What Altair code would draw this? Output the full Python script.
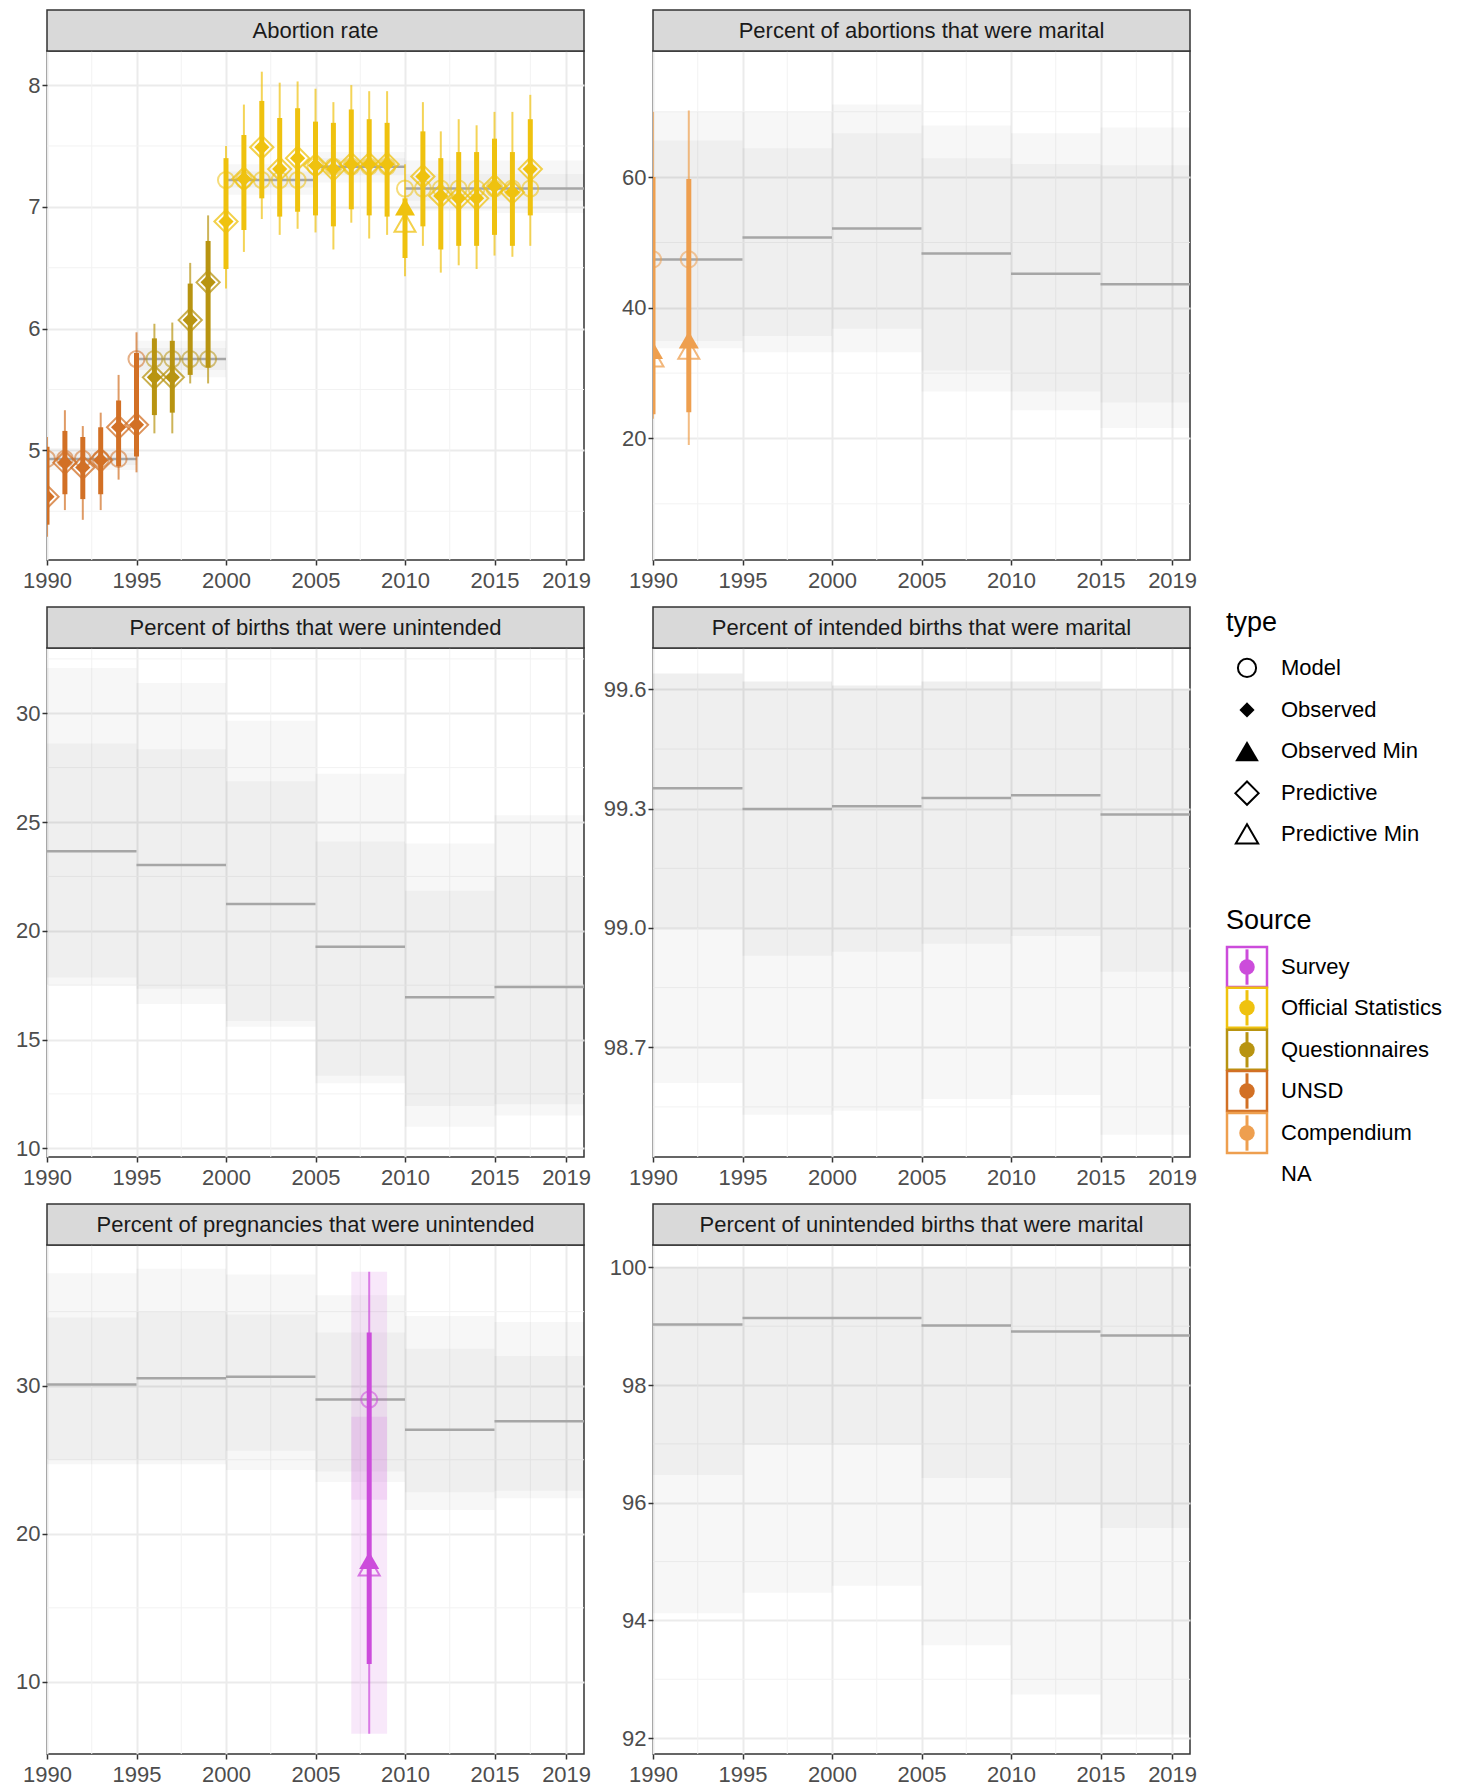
import altair as alt
import pandas as pd

FONT = "Liberation Sans"
W = 537
H = 509
STRIP_H = 41
XAXIS_EXT = 32
ROW_GAP = 12
LEFT_EXT = 38
RIGHT_EXT = 56
FS = 22

# ---------------- shared axis data ----------------
X_TICKS = [1990, 1995, 2000, 2005, 2010, 2015, 2019]
X_MINOR = [1992.5, 1997.5, 2002.5, 2007.5, 2012.5, 2017]
PERIOD_START = [1990, 1995, 2000, 2005, 2010, 2015]
PERIOD_END = [1995, 2000, 2005, 2010, 2015, 2020]

SOURCES = ["Survey", "Official Statistics", "Questionnaires", "UNSD", "Compendium"]
SOURCE_COLORS = ["#CC4CDB", "#EFC20F", "#B89411", "#D27025", "#EE9F4F"]

# ---------------- Panel 1: Abortion rate ----------------
P1_TITLE = "Abortion rate"
P1_MODEL = [4.93, 5.75, 7.22, 7.33, 7.15, 7.15]
P1_OUT_LO = [4.84, 5.60, 7.10, 7.20, 6.97, 6.95]
P1_OUT_HI = [5.02, 5.90, 7.35, 7.45, 7.38, 7.38]
P1_IN_LO = [4.88, 5.66, 7.16, 7.26, 7.05, 7.05]
P1_IN_HI = [4.98, 5.84, 7.29, 7.40, 7.27, 7.27]
P1_YEARS = [1990, 1991, 1992, 1993, 1994, 1995, 1996, 1997, 1998, 1999,
            2000, 2001, 2002, 2003, 2004, 2005, 2006, 2007, 2008, 2009,
            2010, 2011, 2012, 2013, 2014, 2015, 2016, 2017]
P1_SRC = ["UNSD", "UNSD", "UNSD", "UNSD", "UNSD", "UNSD",
          "Questionnaires", "Questionnaires", "Questionnaires", "Questionnaires",
          "Official Statistics", "Official Statistics", "Official Statistics",
          "Official Statistics", "Official Statistics", "Official Statistics",
          "Official Statistics", "Official Statistics", "Official Statistics",
          "Official Statistics", "Official Statistics", "Official Statistics",
          "Official Statistics", "Official Statistics", "Official Statistics",
          "Official Statistics", "Official Statistics", "Official Statistics"]
P1_KIND = ["regular", "regular", "regular", "regular", "regular", "regular",
           "regular", "regular", "regular", "regular", "regular", "regular",
           "regular", "regular", "regular", "regular", "regular", "regular",
           "regular", "regular", "min", "regular", "regular", "regular",
           "regular", "regular", "regular", "regular"]
P1_OBS = [4.62, 4.90, 4.86, 4.92, 5.19, 5.21, 5.60, 5.60, 6.07, 6.38,
          6.88, 7.23, 7.49, 7.31, 7.40, 7.34, 7.31, 7.35, 7.35, 7.35,
          7.00, 7.25, 7.09, 7.07, 7.07, 7.17, 7.12, 7.31]
P1_PRED = [4.62, 4.90, 4.86, 4.92, 5.19, 5.21, 5.60, 5.60, 6.07, 6.38,
           6.88, 7.23, 7.49, 7.31, 7.40, 7.34, 7.31, 7.35, 7.35, 7.35,
           6.87, 7.25, 7.09, 7.07, 7.07, 7.17, 7.12, 7.31]
P1_THIN_LO = [4.29, 4.51, 4.43, 4.51, 4.76, 4.82, 5.14, 5.14, 5.55, 5.55,
              6.33, 6.63, 6.90, 6.77, 6.82, 6.79, 6.65, 6.87, 6.74, 6.77,
              6.43, 6.68, 6.46, 6.52, 6.49, 6.60, 6.59, 6.68]
P1_THIN_HI = [5.11, 5.33, 5.20, 5.31, 5.62, 5.97, 6.04, 6.05, 6.54, 6.93,
              7.50, 7.84, 8.11, 8.02, 8.03, 7.97, 7.86, 8.00, 7.95, 7.95,
              7.35, 7.86, 7.62, 7.72, 7.67, 7.78, 7.78, 7.92]
P1_THICK_LO = [4.39, 4.64, 4.60, 4.64, 4.87, 4.95, 5.29, 5.31, 5.62, 5.68,
               6.49, 6.81, 7.07, 6.92, 6.96, 6.93, 6.84, 6.98, 6.93, 6.92,
               6.58, 6.84, 6.65, 6.68, 6.68, 6.77, 6.68, 6.93]
P1_THICK_HI = [5.03, 5.16, 5.11, 5.19, 5.41, 5.80, 5.92, 5.90, 6.37, 6.72,
               7.40, 7.59, 7.87, 7.73, 7.81, 7.70, 7.69, 7.80, 7.72, 7.69,
               7.07, 7.62, 7.40, 7.45, 7.45, 7.56, 7.45, 7.72]
P1_FIT = [4.93, 4.93, 4.93, 4.93, 4.93, 5.75, 5.75, 5.75, 5.75, 5.75,
          7.22, 7.22, 7.22, 7.22, 7.22, 7.33, 7.33, 7.33, 7.33, 7.33,
          7.15, 7.15, 7.15, 7.15, 7.15, 7.15, 7.15, 7.15]

# ---------------- Panel 2: Percent of abortions that were marital ----------------
P2_TITLE = "Percent of abortions that were marital"
P2_MODEL = [47.4, 50.75, 52.15, 48.3, 45.2, 43.6]
P2_OUT_LO = [33.8, 33.2, 33.2, 27.2, 24.3, 21.6]
P2_OUT_HI = [70.0, 70.0, 71.1, 67.9, 66.7, 67.6]
P2_IN_LO = [34.9, 35.7, 36.8, 30.4, 27.2, 25.5]
P2_IN_HI = [65.6, 64.4, 66.7, 62.9, 62.0, 61.8]
P2_YEARS = [1990, 1992]
P2_SRC = ["Compendium", "Compendium"]
P2_KIND = ["min", "min"]
P2_OBS = [33.5, 35.1]
P2_PRED = [32.4, 33.6]
P2_THIN_LO = [23.0, 19.0]
P2_THIN_HI = [70.0, 70.2]
P2_THICK_LO = [23.7, 24.0]
P2_THICK_HI = [60.0, 59.7]
P2_FIT = [47.4, 47.4]

# ---------------- Panel 3: Percent of births that were unintended ----------------
P3_TITLE = "Percent of births that were unintended"
P3_MODEL = [23.66, 23.02, 21.23, 19.27, 16.94, 17.41]
P3_OUT_LO = [17.50, 16.63, 15.59, 12.99, 10.99, 11.51]
P3_OUT_HI = [32.08, 31.39, 29.65, 27.22, 24.01, 25.31]
P3_IN_LO = [17.85, 17.33, 15.85, 13.33, 11.94, 12.03]
P3_IN_HI = [28.61, 28.35, 26.87, 24.10, 21.84, 22.53]

# ---------------- Panel 4: Percent of intended births that were marital ----------------
P4_TITLE = "Percent of intended births that were marital"
P4_MODEL = [99.351, 99.299, 99.306, 99.327, 99.334, 99.285]
P4_OUT_LO = [98.61, 98.53, 98.54, 98.57, 98.58, 98.48]
P4_OUT_HI = [99.64, 99.62, 99.61, 99.62, 99.62, 99.60]
P4_IN_LO = [99.00, 98.93, 98.94, 98.96, 98.98, 98.89]
P4_IN_HI = [99.64, 99.62, 99.61, 99.62, 99.62, 99.60]

# ---------------- Panel 5: Percent of pregnancies that were unintended ----------------
P5_TITLE = "Percent of pregnancies that were unintended"
P5_MODEL = [30.08, 30.50, 30.60, 29.06, 27.03, 27.60]
P5_OUT_LO = [24.7, 24.7, 24.3, 23.5, 21.6, 22.4]
P5_OUT_HI = [37.6, 37.9, 37.5, 36.1, 34.7, 34.3]
P5_IN_LO = [25.0, 25.0, 25.6, 24.2, 22.8, 22.9]
P5_IN_HI = [34.6, 35.0, 34.8, 33.6, 32.5, 32.0]
P5_YEARS = [2008]
P5_SRC = ["Survey"]
P5_KIND = ["min"]
P5_OBS = [18.2]
P5_PRED = [17.8]
P5_THIN_LO = [6.5]
P5_THIN_HI = [37.7]
P5_THICK_LO = [11.2]
P5_THICK_HI = [33.6]
P5_FIT = [29.06]
P5_RECT_X0 = [2007, 2007]
P5_RECT_X1 = [2009, 2009]
P5_RECT_LO = [6.5, 22.3]
P5_RECT_HI = [37.7, 27.9]

# ---------------- Panel 6: Percent of unintended births that were marital ----------------
P6_TITLE = "Percent of unintended births that were marital"
P6_MODEL = [99.03, 99.14, 99.14, 99.01, 98.91, 98.84]
P6_OUT_LO = [94.12, 94.47, 94.59, 93.58, 92.74, 92.06]
P6_OUT_HI = [100.0, 100.0, 100.0, 100.0, 100.0, 100.0]
P6_IN_LO = [96.47, 96.98, 96.98, 96.42, 95.97, 95.57]
P6_IN_HI = [100.0, 100.0, 100.0, 100.0, 100.0, 100.0]

# ---------------- Legend ----------------
LEG_ROWS = ["type", "Model", "Observed", "Observed Min", "Predictive", "Predictive Min",
            "Source", "Survey", "Official Statistics", "Questionnaires", "UNSD",
            "Compendium", "NA"]
# vertical slot of each legend row, in row-step units (titles leave a little extra room)
LEG_POS = [0, 1.08, 2.09, 3.08, 4.09, 5.07, 7.16, 8.27, 9.25, 10.26, 11.25, 12.26, 13.25]
TYPE_LABELS = ["Model", "Observed", "Observed Min", "Predictive", "Predictive Min"]
TYPE_SHAPES = ["circle", "diamond", "triangle-up", "diamond", "triangle-up"]
TYPE_FILLED = [False, True, True, False, False]
TYPE_SIZES = [330, 230, 560, 540, 500]
LEG_TITLES = ["type", "Source"]

XSCALE = alt.Scale(domain=[1990, 2020], nice=False, zero=False)
COLOR = alt.Color("src:N", scale=alt.Scale(domain=SOURCES, range=SOURCE_COLORS), legend=None)
SHAPE_OF = {"regular": "diamond", "min": "triangle-up"}
SIZE_OBS = {"regular": 230, "min": 400}
SIZE_PRED = {"regular": 540, "min": 440}


def make_panel(title, ydomain, yticks, yminor, yfmt, ext,
               model, out_lo, out_hi, in_lo, in_hi, obs=None, rects=None):
    xaxis = alt.Axis(values=X_TICKS, format="d", title=None, grid=True, labelFlush=False,
                     labelPadding=5, minExtent=XAXIS_EXT, maxExtent=XAXIS_EXT)
    yaxis = alt.Axis(values=yticks, format=yfmt, title=None, grid=True,
                     minExtent=ext, maxExtent=ext)
    yscale = alt.Scale(domain=ydomain, nice=False, zero=False)

    def X(f):
        return alt.X(f, type="quantitative", scale=XSCALE, axis=xaxis)

    def Y(f):
        return alt.Y(f, type="quantitative", scale=yscale, axis=yaxis)

    periods = pd.DataFrame({"x0": PERIOD_START, "x1": PERIOD_END, "m": model,
                            "olo": out_lo, "ohi": out_hi, "ilo": in_lo, "ihi": in_hi})
    layers = [
        alt.Chart(pd.DataFrame({"v": X_MINOR})).mark_rule(color="#f2f2f2", strokeWidth=1)
        .encode(x=X("v")),
        alt.Chart(pd.DataFrame({"v": yminor})).mark_rule(color="#f2f2f2", strokeWidth=1)
        .encode(y=Y("v")),
        alt.Chart(periods).mark_rect(color="black", opacity=0.03, clip=True)
        .encode(x=X("x0"), x2="x1", y=Y("olo"), y2="ohi"),
        alt.Chart(periods).mark_rect(color="black", opacity=0.03, clip=True)
        .encode(x=X("x0"), x2="x1", y=Y("ilo"), y2="ihi"),
        alt.Chart(periods).mark_rule(color="#a6a6a6", strokeWidth=2.5, clip=True)
        .encode(x=X("x0"), x2="x1", y=Y("m")),
    ]
    if rects is not None:
        rdf = pd.DataFrame(rects)
        layers.append(
            alt.Chart(rdf).mark_rect(opacity=0.13, clip=True)
            .encode(x=X("x0"), x2="x1", y=Y("lo"), y2="hi", color=COLOR)
        )
    if obs is not None:
        odf = pd.DataFrame(obs)
        odf["shape"] = [SHAPE_OF[k] for k in odf["kind"]]
        odf["so"] = [SIZE_OBS[k] for k in odf["kind"]]
        odf["sp"] = [SIZE_PRED[k] for k in odf["kind"]]
        base = alt.Chart(odf)
        layers += [
            base.mark_rule(strokeWidth=2, opacity=0.7, clip=True)
            .encode(x=X("year"), y=Y("thin_lo"), y2="thin_hi", color=COLOR),
            base.mark_rule(strokeWidth=5, opacity=1, clip=True)
            .encode(x=X("year"), y=Y("thick_lo"), y2="thick_hi", color=COLOR),
            base.mark_point(shape="circle", filled=False, size=260, strokeWidth=2,
                            opacity=0.55, clip=True)
            .encode(x=X("year"), y=Y("fit"), color=COLOR),
            base.mark_point(filled=False, strokeWidth=2, opacity=0.75, clip=True)
            .encode(x=X("year"), y=Y("pred"), color=COLOR,
                    shape=alt.Shape("shape:N", scale=None),
                    size=alt.Size("sp:Q", scale=None)),
            base.mark_point(filled=True, opacity=1, clip=True)
            .encode(x=X("year"), y=Y("obs"), color=COLOR,
                    shape=alt.Shape("shape:N", scale=None),
                    size=alt.Size("so:Q", scale=None)),
        ]
    # facet strip drawn just above the plot area
    tdf = pd.DataFrame({"t": [title]})
    layers += [
        alt.Chart(tdf).mark_rect(fill="#d9d9d9", stroke="#333333", strokeWidth=1.5)
        .encode(x=alt.value(0), x2=alt.value(W), y=alt.value(-STRIP_H), y2=alt.value(0)),
        alt.Chart(tdf).mark_text(fontSize=FS, color="#1a1a1a", baseline="middle")
        .encode(text="t:N", x=alt.value(W / 2), y=alt.value(-STRIP_H / 2)),
    ]
    return alt.layer(*layers).properties(width=W, height=H)


def obs_dict(years, src, kind, o, p, tlo, thi, klo, khi, fit):
    return {"year": years, "src": src, "kind": kind, "obs": o, "pred": p,
            "thin_lo": tlo, "thin_hi": thi, "thick_lo": klo, "thick_hi": khi, "fit": fit}


p1 = make_panel(P1_TITLE, [4.1, 8.28], [5, 6, 7, 8], [4.5, 5.5, 6.5, 7.5], "d", LEFT_EXT,
                P1_MODEL, P1_OUT_LO, P1_OUT_HI, P1_IN_LO, P1_IN_HI,
                obs=obs_dict(P1_YEARS, P1_SRC, P1_KIND, P1_OBS, P1_PRED, P1_THIN_LO,
                             P1_THIN_HI, P1_THICK_LO, P1_THICK_HI, P1_FIT))
p2 = make_panel(P2_TITLE, [1.4, 79.3], [20, 40, 60], [10, 30, 50, 70], "d", RIGHT_EXT,
                P2_MODEL, P2_OUT_LO, P2_OUT_HI, P2_IN_LO, P2_IN_HI,
                obs=obs_dict(P2_YEARS, P2_SRC, P2_KIND, P2_OBS, P2_PRED, P2_THIN_LO,
                             P2_THIN_HI, P2_THICK_LO, P2_THICK_HI, P2_FIT))
p3 = make_panel(P3_TITLE, [9.6, 33.0], [10, 15, 20, 25, 30], [12.5, 17.5, 22.5, 27.5, 32.5],
                "d", LEFT_EXT, P3_MODEL, P3_OUT_LO, P3_OUT_HI, P3_IN_LO, P3_IN_HI)
p4 = make_panel(P4_TITLE, [98.424, 99.704], [98.7, 99.0, 99.3, 99.6],
                [98.55, 98.85, 99.15, 99.45], ".1f", RIGHT_EXT,
                P4_MODEL, P4_OUT_LO, P4_OUT_HI, P4_IN_LO, P4_IN_HI)
p5 = make_panel(P5_TITLE, [5.13, 39.5], [10, 20, 30], [15, 25, 35], "d", LEFT_EXT,
                P5_MODEL, P5_OUT_LO, P5_OUT_HI, P5_IN_LO, P5_IN_HI,
                obs=obs_dict(P5_YEARS, P5_SRC, P5_KIND, P5_OBS, P5_PRED, P5_THIN_LO,
                             P5_THIN_HI, P5_THICK_LO, P5_THICK_HI, P5_FIT),
                rects={"x0": P5_RECT_X0, "x1": P5_RECT_X1, "lo": P5_RECT_LO,
                       "hi": P5_RECT_HI, "src": ["Survey", "Survey"]})
p6 = make_panel(P6_TITLE, [91.73, 100.38], [92, 94, 96, 98, 100], [93, 95, 97, 99], "d",
                RIGHT_EXT, P6_MODEL, P6_OUT_LO, P6_OUT_HI, P6_IN_LO, P6_IN_HI)

left_col = alt.vconcat(p1, p3, p5, spacing=ROW_GAP)
right_col = alt.vconcat(p2, p4, p6, spacing=ROW_GAP)

# ---------------- legend chart ----------------
# the legend view starts level with the top of the first plot area (below the strip)
LEG_H = 3 * (STRIP_H + H + XAXIS_EXT) + 2 * ROW_GAP - STRIP_H
ROW_STEP = 41.6
FIRST_ROW = 572
LY = alt.Y("pos:Q", scale=alt.Scale(domain=[-FIRST_ROW / ROW_STEP,
                                            (LEG_H - FIRST_ROW) / ROW_STEP],
                                    reverse=True, nice=False, zero=False), axis=None)


def leg_df(rows, **extra):
    d = {"row": rows, "pos": [LEG_POS[LEG_ROWS.index(r)] for r in rows]}
    d.update(extra)
    return pd.DataFrame(d)


type_df = leg_df(TYPE_LABELS, shape=TYPE_SHAPES, filled=TYPE_FILLED, size=TYPE_SIZES)
src_df = leg_df(SOURCES, color=SOURCE_COLORS)
lab_df = leg_df(TYPE_LABELS + SOURCES + ["NA"])
tit_df = leg_df(LEG_TITLES)

legend = alt.layer(
    alt.Chart(tit_df).mark_text(align="left", baseline="middle", fontSize=27, color="#000000")
    .encode(y=LY, x=alt.value(2), text="row:N"),
    alt.Chart(type_df[type_df["filled"]]).mark_point(filled=True, color="#000000", opacity=1)
    .encode(y=LY, x=alt.value(23), shape=alt.Shape("shape:N", scale=None),
            size=alt.Size("size:Q", scale=None)),
    alt.Chart(type_df[~type_df["filled"]]).mark_point(filled=False, color="#000000", opacity=1,
                                                      strokeWidth=2)
    .encode(y=LY, x=alt.value(23), shape=alt.Shape("shape:N", scale=None),
            size=alt.Size("size:Q", scale=None)),
    alt.Chart(src_df).mark_point(shape="square", filled=False, size=1600, strokeWidth=2.5,
                                 opacity=1)
    .encode(y=LY, x=alt.value(23), color=alt.Color("color:N", scale=None)),
    alt.Chart(src_df).mark_point(shape="M0,-1L0,1", filled=False, size=1250, strokeWidth=3,
                                 opacity=1)
    .encode(y=LY, x=alt.value(23), color=alt.Color("color:N", scale=None)),
    alt.Chart(src_df).mark_point(shape="circle", filled=True, size=240, opacity=1)
    .encode(y=LY, x=alt.value(23), color=alt.Color("color:N", scale=None)),
    alt.Chart(lab_df).mark_text(align="left", baseline="middle", fontSize=FS, color="#000000")
    .encode(y=LY, x=alt.value(57), text="row:N"),
).properties(width=212, height=LEG_H,
             view=alt.ViewBackground(stroke="transparent", fill="transparent"))

chart = alt.hconcat(
    alt.hconcat(left_col, right_col, spacing=4),
    legend,
    spacing=23,
).properties(padding=0).configure(
    font=FONT
).configure_view(
    stroke="#333333", strokeWidth=1.5
).configure_axis(
    labelFont=FONT, labelFontSize=FS, labelColor="#4d4d4d", tickColor="#333333",
    tickSize=5, tickWidth=1.5, domain=False, gridColor="#ebebeb", gridWidth=2,
    labelPadding=2,
)

chart.save("out.html", embed_options={"renderer": "svg", "actions": False})
